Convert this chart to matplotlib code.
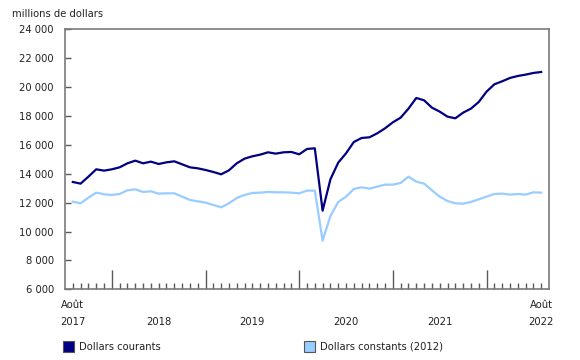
"""
Monthly values in current and constant (2012) dollars, Aug 2017 to Aug 2022.
"""
import numpy as np
import matplotlib
matplotlib.use("Agg")
import matplotlib.pyplot as plt
from matplotlib.patches import Rectangle
from matplotlib.ticker import FuncFormatter, FixedLocator

# millions de dollars, août 2017 -> août 2022
dollars_courants = [
    13430, 13315, 13800, 14307, 14215, 14307, 14445, 14722, 14907, 14722,
    14837, 14676, 14790, 14860, 14653, 14445, 14376, 14260, 14122, 13960,
    14237, 14722, 15045, 15207, 15322, 15484, 15392, 15484, 15507, 15346,
    15715, 15761, 11445, 13615, 14769, 15415, 16200, 16477, 16523, 16800,
    17146, 17561, 17884, 18507, 19246, 19084, 18577, 18300, 17953, 17838,
    18230, 18507, 18969, 19684, 20192, 20400, 20630, 20769, 20861, 20977,
    21046,
]
dollars_constants = [
    12068, 11953, 12345, 12692, 12577, 12530, 12600, 12853, 12923, 12738,
    12784, 12622, 12645, 12645, 12415, 12184, 12092, 12000, 11838, 11676,
    11953, 12322, 12530, 12669, 12692, 12738, 12715, 12715, 12692, 12645,
    12830, 12830, 9368, 11076, 12045, 12415, 12946, 13061, 12969, 13107,
    13246, 13246, 13361, 13800, 13453, 13315, 12853, 12415, 12115, 11953,
    11930, 12045, 12230, 12415, 12600, 12622, 12553, 12600, 12553, 12715,
    12692,
]
year_labels = ["Août\n2017", "\n2018", "\n2019", "\n2020", "\n2021", "Août\n2022"]
year_label_months = [0, 11, 23, 35, 47, 60]
january_months = [5, 17, 29, 41, 53]
legend_labels = ["Dollars courants", "Dollars constants (2012)"]

DARK = "#000080"
LIGHT = "#99ccff"
FRAME = "#7a7a7a"
TICK = "#5a5a5a"
TEXT = "#222222"

plt.rcParams["font.family"] = ["DejaVu Sans"]
plt.rcParams["font.size"] = 7.2

W, H = 580, 360
fig = plt.figure(figsize=(W / 100, H / 100), dpi=100)
ax = fig.add_axes([65 / W, 1 - 289.3 / H, 484 / W, 260 / H])

months = np.arange(len(dollars_courants))
ax.plot(months, dollars_courants, color=DARK, lw=1.6, solid_joinstyle="round")
ax.plot(months, dollars_constants, color=LIGHT, lw=1.6, solid_joinstyle="round")

ax.set_xlim(-1, 61)
ax.set_ylim(6000, 24000)
ax.set_yticks(np.arange(6000, 24001, 2000))
ax.yaxis.set_major_formatter(FuncFormatter(lambda v, _: f"{int(v):,}".replace(",", " ")))

# month ticks, longer at each January
ax.xaxis.set_major_locator(FixedLocator(january_months))
ax.xaxis.set_minor_locator(FixedLocator(list(months)))
ax.set_xticklabels([])
ax.tick_params(axis="x", which="major", direction="in", length=14, width=1, color=TICK)
ax.tick_params(axis="x", which="minor", direction="in", length=4, width=1, color=TICK)
ax.tick_params(axis="y", direction="in", length=4, width=1, color=TICK,
               labelcolor=TEXT, pad=8)

for side in ax.spines.values():
    side.set_color(FRAME)
    side.set_linewidth(1.2)

trans = ax.get_xaxis_transform()
for m, label in zip(year_label_months, year_labels):
    ax.text(m, -0.04, label, transform=trans, ha="center", va="top",
            color=TEXT, linespacing=1.9)

fig.text(12 / W, 1 - 14 / H, "millions de dollars", color=TEXT, va="center")

# legend
for x0, color, label in zip([63, 304], [DARK, LIGHT], legend_labels):
    fig.add_artist(Rectangle((x0 / W, 1 - 352 / H), 11 / W, 11 / H,
                             transform=fig.transFigure, facecolor=color,
                             edgecolor="#555555", lw=0.8))
    fig.text((x0 + 16) / W, 1 - 346.5 / H, label, color=TEXT, va="center")

fig.savefig("out.png", dpi=100)
